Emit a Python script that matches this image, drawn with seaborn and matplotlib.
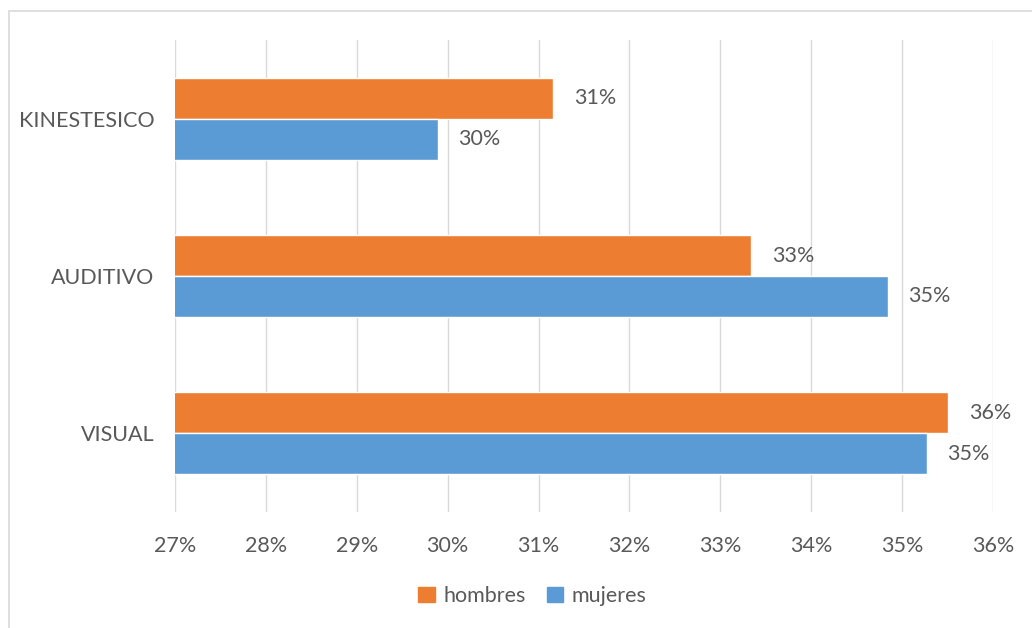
import pandas as pd
import matplotlib.pyplot as plt
import seaborn as sns
from matplotlib.patches import Rectangle

# chart values
categorias = ["KINESTESICO", "AUDITIVO", "VISUAL"]
hombres = [31.16, 33.34, 35.51]
mujeres = [29.89, 34.84, 35.27]
ticks = [27, 28, 29, 30, 31, 32, 33, 34, 35, 36]

df = pd.DataFrame({
    "estilo": categorias * 2,
    "grupo": ["hombres"] * 3 + ["mujeres"] * 3,
    "valor": hombres + mujeres,
})

sns.set_theme(style="white")
plt.rcParams["font.family"] = ["Lato", "DejaVu Sans"]
gris = "#595959"
fs = 15.5

fig = plt.figure(figsize=(10.32, 6.28), dpi=100)
ax = fig.add_axes([0.1696, 0.1847, 0.9622 - 0.1696, 0.9363 - 0.1847])

sns.barplot(data=df, x="valor", y="estilo", hue="grupo", order=categorias,
            hue_order=["hombres", "mujeres"], palette=["#ED7D31", "#5B9BD5"],
            width=0.52, orient="h", ax=ax, legend=False, saturation=1)

ax.set_xlim(27, 36)
ax.set_xticks(ticks)
ax.set_xticklabels([f"{t}%" for t in ticks])
ax.grid(axis="x", color="#D9D9D9", linewidth=1)
ax.set_axisbelow(True)
for s in ax.spines.values():
    s.set_visible(False)
ax.set_xlabel("")
ax.set_ylabel("")
ax.tick_params(axis="x", colors=gris, labelsize=fs, length=0, pad=17)
ax.tick_params(axis="y", colors=gris, labelsize=fs, length=0, pad=15)

for cont in ax.containers:
    ax.bar_label(cont, labels=[f"{v:.0f}%" for v in cont.datavalues],
                 padding=15, color=gris, fontsize=fs)

# legend
handles = [Rectangle((0, 0), 1, 1, color="#ED7D31"), Rectangle((0, 0), 1, 1, color="#5B9BD5")]
fig.legend(handles, ["hombres", "mujeres"], loc="center", bbox_to_anchor=(0.516, 0.051),
           ncol=2, frameon=False, fontsize=fs, labelcolor=gris,
           handlelength=0.75, handleheight=0.75, handletextpad=0.4, columnspacing=1.0)

# outer chart border
fig.patches.append(Rectangle((9 / 1032, -0.1), 1.2, 1 - 11 / 628 + 0.1,
                             transform=fig.transFigure, fill=False,
                             edgecolor="#D9D9D9", linewidth=1.2))

fig.savefig("out.png", dpi=100)
